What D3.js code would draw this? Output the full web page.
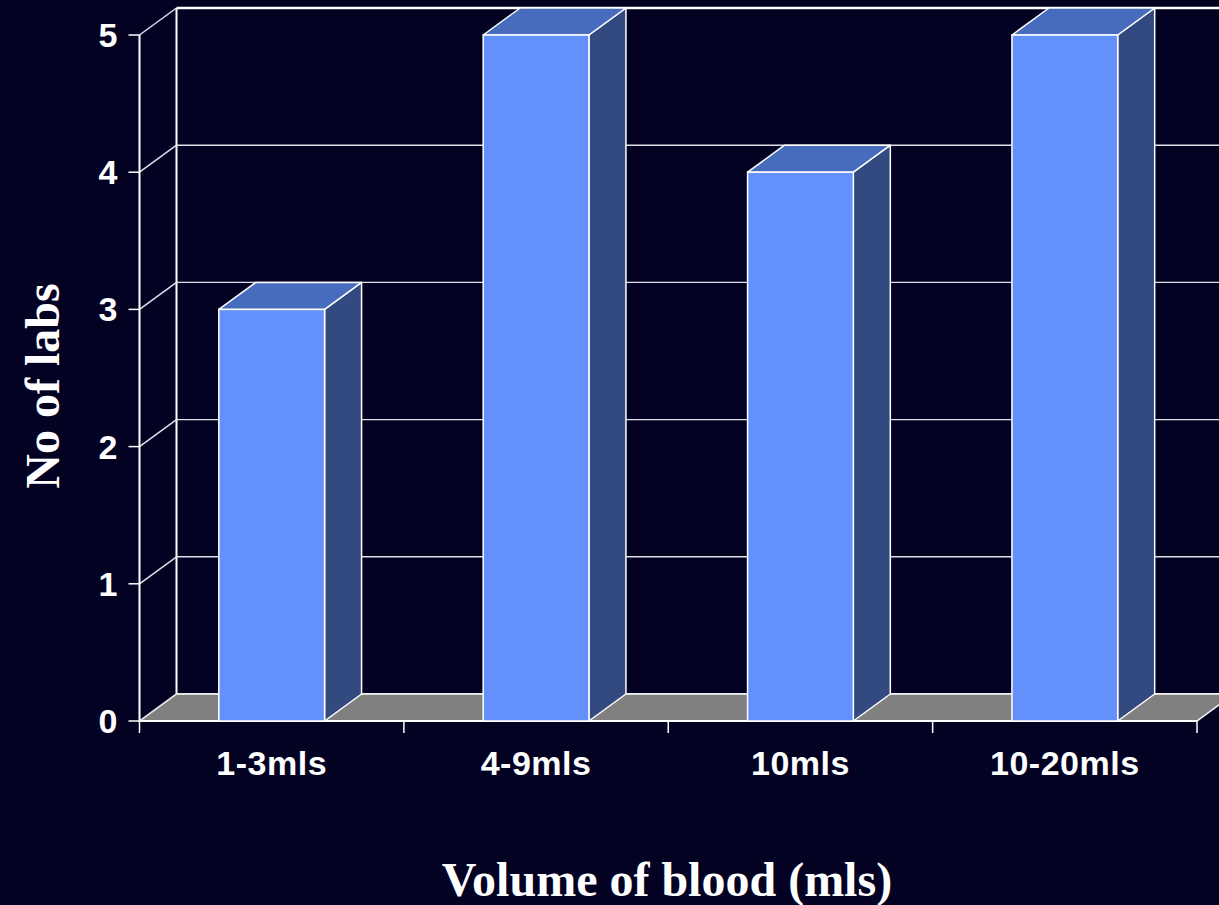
<!DOCTYPE html>
<html>
<head>
<meta charset="utf-8">
<script src="https://cdn.jsdelivr.net/npm/d3@7"></script>
<style>
  html, body { margin: 0; padding: 0; background: #030223; }
  svg { display: block; }
</style>
</head>
<body>
<svg id="chart" width="1219" height="905"></svg>
<script>
// Chart data
const categories = ["1-3mls", "4-9mls", "10mls", "10-20mls"];
const labCounts = [3, 5, 4, 5];
const yTicks = [0, 1, 2, 3, 4, 5];
const xTitle = "Volume of blood (mls)";
const yTitle = "No of labs";

const W = 1219, H = 905;
const svg = d3.select("#chart");
svg.append("rect").attr("width", W).attr("height", H).attr("fill", "#030223");

// Front plane of the 3D box and the depth offset toward the back wall
const plotLeft = 139.5, plotRight = 1197, plotBase = 721, plotTop = 35;
const DX = 37, DY = -27;

const x = d3.scaleBand().domain(categories).range([plotLeft, plotRight]).padding(0);
const y = d3.scaleLinear().domain([0, 5]).range([plotBase, plotTop]);
const barW = x.bandwidth() * 0.4;

const colors = {
  front: "#6490fc",
  top: "#476bbd",
  side: "#324a80",
  floor: "#808080",
  line: "#ffffff",
  grid: "#e0e0e8"
};

const g = svg.append("g");

// Back wall gridlines
g.selectAll("line.grid").data(yTicks).join("line")
  .attr("class", "grid")
  .attr("x1", plotLeft + DX).attr("x2", plotRight + DX + 40)
  .attr("y1", d => y(d) + DY).attr("y2", d => y(d) + DY)
  .attr("stroke", d => d === 5 ? colors.line : colors.grid)
  .attr("stroke-width", d => d === 5 ? 2.5 : 1.4);

// Back wall left edge
g.append("line")
  .attr("x1", plotLeft + DX).attr("x2", plotLeft + DX)
  .attr("y1", y(5) + DY).attr("y2", y(0) + DY)
  .attr("stroke", colors.line).attr("stroke-width", 2);

// Floor
g.append("path")
  .attr("d", d3.line()([
    [plotLeft, y(0)], [plotLeft + DX, y(0) + DY], [plotRight + DX, y(0) + DY], [plotRight, y(0)]
  ]) + "Z")
  .attr("fill", colors.floor)
  .attr("stroke", colors.line).attr("stroke-width", 1.5);

// Side-wall diagonals connecting front ticks to the back wall
g.selectAll("line.diag").data(yTicks).join("line")
  .attr("class", "diag")
  .attr("x1", plotLeft).attr("x2", plotLeft + DX)
  .attr("y1", d => y(d)).attr("y2", d => y(d) + DY)
  .attr("stroke", colors.grid).attr("stroke-width", 1.5);

// Front vertical axis and ticks
g.append("line")
  .attr("x1", plotLeft).attr("x2", plotLeft)
  .attr("y1", y(5)).attr("y2", y(0))
  .attr("stroke", colors.line).attr("stroke-width", 2);

g.selectAll("line.ytick").data(yTicks).join("line")
  .attr("class", "ytick")
  .attr("x1", plotLeft - 11).attr("x2", plotLeft)
  .attr("y1", d => y(d)).attr("y2", d => y(d))
  .attr("stroke", colors.line).attr("stroke-width", 1.5);

// Category boundary ticks
const xTickPos = categories.map(c => x(c)).concat([plotRight]);
g.selectAll("line.xtick").data(xTickPos).join("line")
  .attr("class", "xtick")
  .attr("x1", d => d).attr("x2", d => d)
  .attr("y1", y(0)).attr("y2", y(0) + 12)
  .attr("stroke", colors.line).attr("stroke-width", 1.5);

// Bottom front edge
g.append("line")
  .attr("x1", plotLeft).attr("x2", plotRight)
  .attr("y1", y(0)).attr("y2", y(0))
  .attr("stroke", colors.line).attr("stroke-width", 2);

// 3D bars
const bars = g.selectAll("g.bar")
  .data(categories.map((c, i) => ({ c, v: labCounts[i] })))
  .join("g").attr("class", "bar");

bars.each(function (d) {
  const b = d3.select(this);
  const xl = x(d.c) + (x.bandwidth() - barW) / 2;
  const xr = xl + barW;
  const yt = y(d.v), yb = y(0);
  const poly = pts => d3.line()(pts) + "Z";
  b.append("path")
    .attr("d", poly([[xr, yt], [xr + DX, yt + DY], [xr + DX, yb + DY], [xr, yb]]))
    .attr("fill", colors.side).attr("stroke", colors.line).attr("stroke-width", 1.5)
    .attr("stroke-linejoin", "round");
  b.append("path")
    .attr("d", poly([[xl, yt], [xl + DX, yt + DY], [xr + DX, yt + DY], [xr, yt]]))
    .attr("fill", colors.top).attr("stroke", colors.line).attr("stroke-width", 1.5)
    .attr("stroke-linejoin", "round");
  b.append("rect")
    .attr("x", xl).attr("y", yt).attr("width", barW).attr("height", yb - yt)
    .attr("fill", colors.front).attr("stroke", colors.line).attr("stroke-width", 1.5);
});

// Y tick labels
g.selectAll("text.ylab").data(yTicks).join("text")
  .attr("class", "ylab")
  .attr("x", plotLeft - 22).attr("y", d => y(d))
  .attr("dy", "0.35em")
  .attr("text-anchor", "end")
  .attr("fill", "#ffffff")
  .attr("font-family", "Liberation Sans, Arial, sans-serif")
  .attr("font-weight", "bold").attr("font-size", 34)
  .text(d => d);

// Category labels
g.selectAll("text.xlab").data(categories).join("text")
  .attr("class", "xlab")
  .attr("x", d => x(d) + x.bandwidth() / 2).attr("y", 775)
  .attr("text-anchor", "middle")
  .attr("fill", "#ffffff")
  .attr("font-family", "Liberation Sans, Arial, sans-serif")
  .attr("font-weight", "bold").attr("font-size", 34)
  .attr("letter-spacing", 0.5)
  .text(d => d);

// Axis titles
svg.append("text")
  .attr("x", 667).attr("y", 896)
  .attr("text-anchor", "middle")
  .attr("fill", "#ffffff")
  .attr("font-family", "Liberation Serif, Times New Roman, serif")
  .attr("font-weight", "bold").attr("font-size", 48)
  .text(xTitle);

svg.append("text")
  .attr("transform", "translate(59,386) rotate(-90)")
  .attr("text-anchor", "middle")
  .attr("fill", "#ffffff")
  .attr("font-family", "Liberation Serif, Times New Roman, serif")
  .attr("font-weight", "bold").attr("font-size", 48)
  .text(yTitle);
</script>
</body>
</html>
